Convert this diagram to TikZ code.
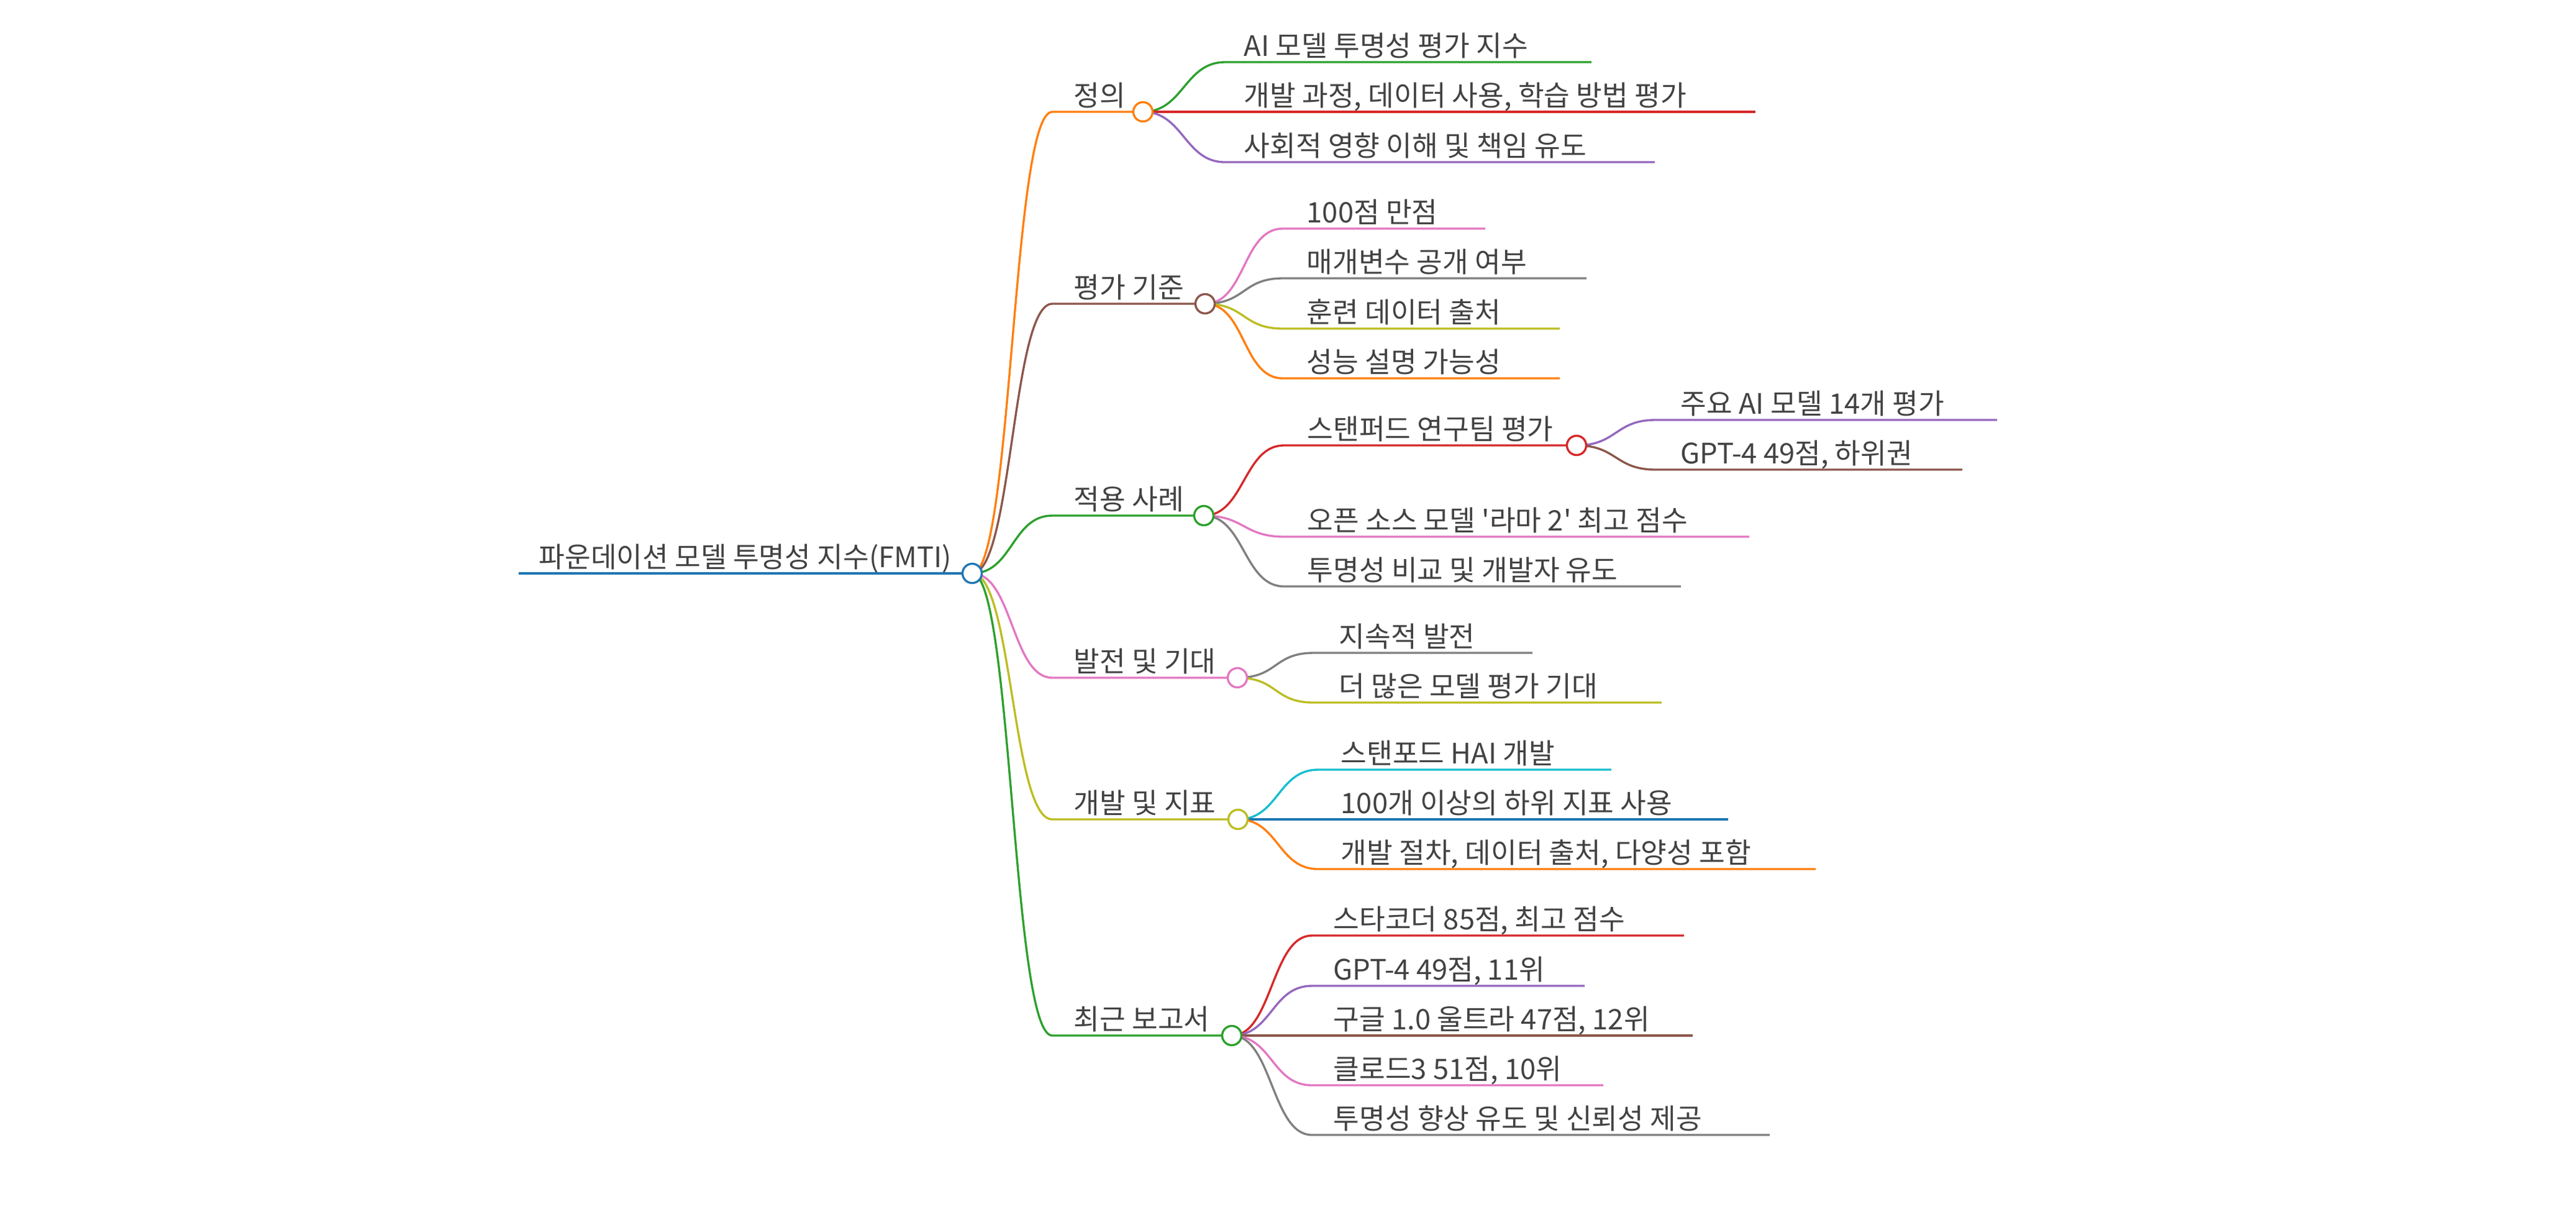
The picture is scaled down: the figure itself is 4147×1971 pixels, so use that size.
\documentclass[tikz,border=0pt]{standalone}
\usepackage{fontspec}
\newfontfamily\hangul{Noto Sans CJK KR}
\definecolor{azul}{HTML}{1f77b4}
\definecolor{naranjo}{HTML}{ff7f0e}
\definecolor{verde}{HTML}{2ca02c}
\definecolor{rojo}{HTML}{d62728}
\definecolor{morado}{HTML}{9467bd}
\definecolor{cafe}{HTML}{8c564b}
\definecolor{rosado}{HTML}{e377c2}
\definecolor{gris}{HTML}{7f7f7f}
\definecolor{oliva}{HTML}{bcbd22}
\definecolor{celeste}{HTML}{17becf}
\tikzset{
  enlace/.style={line width=0.96pt},
  texto/.style={font=\hangul\fontsize{12.9}{15}\selectfont, text=black!74, anchor=base west, inner sep=0pt},
  nudo/.style={circle, draw=#1, fill=white, line width=0.96pt, minimum size=3.1mm, inner sep=0pt}
}
% name, parent, colour, line start, text x, line end, y, text
\newcommand\hoja[8]{%
  \coordinate (#1-i) at (#4,#7);
  \coordinate (#1) at (#6,#7);
  \node[texto] (#1-t) at (#5,#7-10) {#8};
  \begin{pgfonlayer}{background}
    \draw[enlace, #3] (#2) .. controls +(65,0) and +(-65,0) .. (#1-i) -- (#1);
  \end{pgfonlayer}}

\begin{document}
\begin{tikzpicture}[x=0.01cm, y=-0.01cm]

  \pgfdeclarelayer{background}
  \pgfsetlayers{background,main}

  \useasboundingbox (0,0) rectangle (4147,1971);

  \coordinate (raiz-i) at (835,923);
  \coordinate (raiz) at (1565,923);
  \node[texto] (raiz-t) at (867,913) {파운데이션 모델 투명성 지수(FMTI)};
  \draw[enlace, azul, line width=1.34pt] (raiz-i) -- (raiz);

  \hoja{def}{raiz}{naranjo}{1694}{1728}{1840}{180}{정의}
  \hoja{eval}{raiz}{cafe}{1694}{1728}{1940}{489}{평가 기준}
  \hoja{caso}{raiz}{verde}{1694}{1728}{1938}{830}{적용 사례}
  \hoja{prog}{raiz}{rosado}{1694}{1728}{1992}{1091}{발전 및 기대}
  \hoja{ind}{raiz}{oliva}{1694}{1728}{1993}{1319}{개발 및 지표}
  \hoja{rep}{raiz}{verde}{1694}{1728}{1983}{1667}{최근 보고서}

  \hoja{def1}{def}{verde}{1972}{2002}{2562}{100}{AI 모델 투명성 평가 지수}
  \hoja{def2}{def}{rojo}{1972}{2002}{2826}{180}{개발 과정, 데이터 사용, 학습 방법 평가}
  \hoja{def3}{def}{morado}{1972}{2002}{2664}{261}{사회적 영향 이해 및 책임 유도}

  \hoja{eval1}{eval}{rosado}{2065}{2103}{2391}{368}{100점 만점}
  \hoja{eval2}{eval}{gris}{2065}{2103}{2554}{448}{매개변수 공개 여부}
  \hoja{eval3}{eval}{oliva}{2065}{2103}{2511}{529}{훈련 데이터 출처}
  \hoja{eval4}{eval}{naranjo}{2065}{2103}{2511}{609}{성능 설명 가능성}

  \hoja{stan}{caso}{rojo}{2067}{2104}{2538}{717}{스탠퍼드 연구팀 평가}
  \hoja{caso2}{caso}{rosado}{2067}{2104}{2816}{864}{오픈 소스 모델 '라마 2' 최고 점수}
  \hoja{caso3}{caso}{gris}{2067}{2104}{2706}{944}{투명성 비교 및 개발자 유도}
  \hoja{stan1}{stan}{morado}{2665}{2705}{3215}{676}{주요 AI 모델 14개 평가}
  \hoja{stan2}{stan}{cafe}{2665}{2705}{3159}{756}{GPT-4 49점, 하위권}

  \hoja{prog1}{prog}{gris}{2115}{2155}{2467}{1051}{지속적 발전}
  \hoja{prog2}{prog}{oliva}{2115}{2155}{2675}{1131}{더 많은 모델 평가 기대}

  \hoja{ind1}{ind}{celeste}{2122}{2158}{2594}{1239}{스탠포드 HAI 개발}
  \hoja{ind2}{ind}{azul}{2122}{2158}{2782}{1319}{100개 이상의 하위 지표 사용}
  \hoja{ind3}{ind}{naranjo}{2122}{2158}{2923}{1399}{개발 절차, 데이터 출처, 다양성 포함}

  \hoja{rep1}{rep}{rojo}{2112}{2146}{2711}{1506}{스타코더 85점, 최고 점수}
  \hoja{rep2}{rep}{morado}{2112}{2146}{2551}{1587}{GPT-4 49점, 11위}
  \hoja{rep3}{rep}{cafe}{2112}{2146}{2725}{1667}{구글 1.0 울트라 47점, 12위}
  \hoja{rep4}{rep}{rosado}{2112}{2146}{2581}{1747}{클로드3 51점, 10위}
  \hoja{rep5}{rep}{gris}{2112}{2146}{2849}{1827}{투명성 향상 유도 및 신뢰성 제공}

  \node[nudo=azul] (raiz-c) at (raiz) {};
  \node[nudo=naranjo] (def-c) at (def) {};
  \node[nudo=cafe] (eval-c) at (eval) {};
  \node[nudo=verde] (caso-c) at (caso) {};
  \node[nudo=rosado] (prog-c) at (prog) {};
  \node[nudo=oliva] (ind-c) at (ind) {};
  \node[nudo=verde] (rep-c) at (rep) {};
  \node[nudo=rojo] (stan-c) at (stan) {};

\end{tikzpicture}
\end{document}
